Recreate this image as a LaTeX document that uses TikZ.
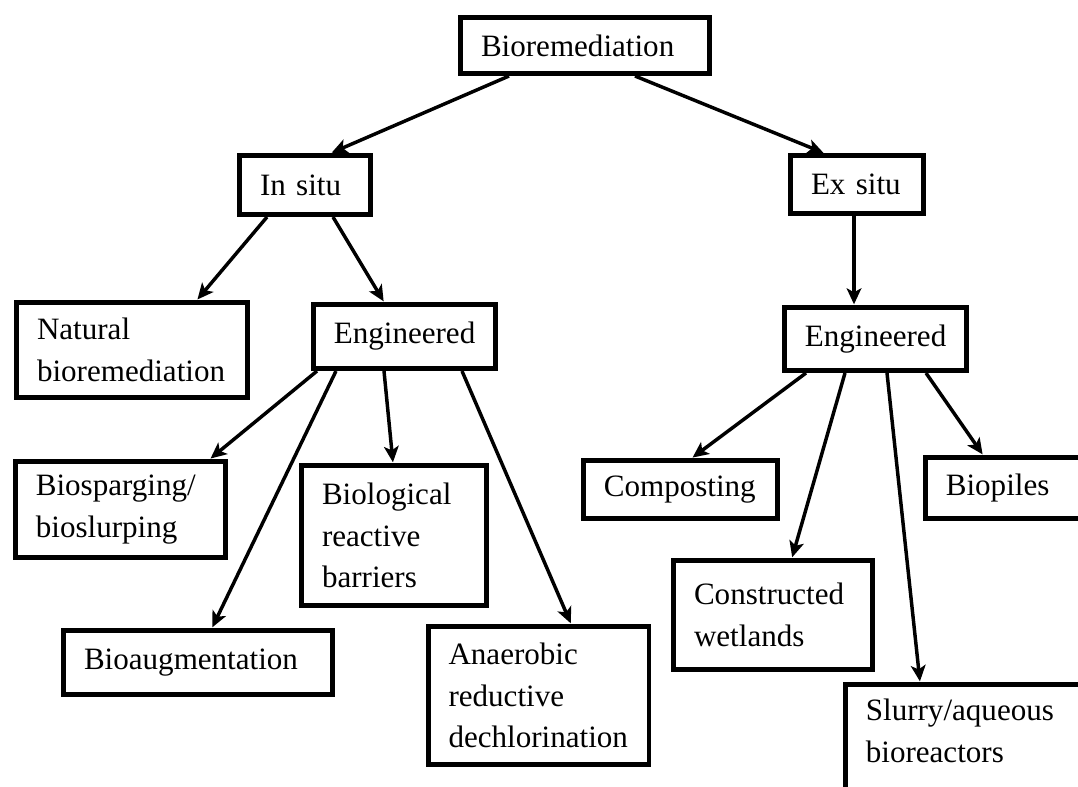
\documentclass[tikz,border=0pt]{standalone}
\usepackage{fontspec}
\setmainfont{Liberation Serif}
\usetikzlibrary{arrows.meta,calc}
\hyphenpenalty=10000
\exhyphenpenalty=10000
\begin{document}
\begin{tikzpicture}[x=0.75pt,y=-0.75pt,
  box/.style={draw, line width=3.6pt, inner xsep=15.3pt, inner ysep=0pt,
    align=left, font=\fontsize{23.3}{31}\selectfont},
  arr/.style={line width=2.6pt, -{Stealth[length=12pt,width=11pt,inset=3pt]}, shorten >=0.5pt}]
\useasboundingbox (0,0) rectangle (1078,787);
\clip (0,0) rectangle (1078,787);
\fill[white] (0,0) rectangle (1078,787);

% boxes
\node[box, text width=156pt, minimum height=42.2pt] (bio) at (585,45.5) {Bioremediation};
\node[box, text width=67.5pt, minimum height=44.4pt] (insitu) at (305,185) {In situ};
\node[box, text width=69pt, minimum height=43.6pt] (exsitu) at (857,184.5) {Ex situ};
\node[box, text width=142.5pt, minimum height=71.4pt] (natural) at (132,350) {Natural\\bioremediation};
\node[box, text width=106pt, minimum height=48.2pt] (engL) at (404.5,336.5) {Engineered};
\node[box, text width=106pt, minimum height=47.4pt] (engR) at (875.5,339) {Engineered};
\node[box, text width=127pt, minimum height=72.2pt] (biosparg) at (120.5,509.5) {Biosparging/\\bioslurping};
\node[box, text width=108pt, minimum height=105.2pt] (biolog) at (394,535.5) {Biological\\reactive\\barriers};
\node[box, text width=171pt, minimum height=48.2pt] (bioaug) at (198,662.5) {Bioaugmentation};
\node[box, text width=135pt, minimum height=103.7pt] (anaer) at (538.5,695.5) {Anaerobic\\reductive\\dechlorination};
\node[box, text width=115pt, minimum height=43.7pt] (compost) at (680.5,489.5) {Composting};
\node[box, text width=98.5pt, minimum height=46pt] (biopiles) at (1011.5,488) {Biopiles};
\node[box, text width=118.5pt, minimum height=82pt] (constr) at (773,615) {Constructed\\wetlands};
\node[box, text width=166pt, minimum height=100.6pt] (slurry) at (976.5,751.5) {Slurry/aqueous\\bioreactors\\\mbox{}};

% connectors
\draw[arr] (bio.south -| 509,0) -- (insitu.north -| 331,0);
\draw[arr] (bio.south -| 635,0) -- (exsitu.north -| 824,0);
\draw[arr] (insitu.south -| 267,0) -- (natural.north -| 197,0);
\draw[arr] (insitu.south -| 333,0) -- (engL.north -| 384,0);
\draw[arr] (exsitu.south -| 854,0) -- (engR.north -| 854,0);
\draw[arr] (engL.south -| 317,0) -- (biosparg.north -| 210,0);
\draw[arr] (engL.south -| 336,0) -- (bioaug.north -| 212,0);
\draw[arr] (engL.south -| 384,0) -- (biolog.north -| 393,0);
\draw[arr] (engL.south -| 462,0) -- (anaer.north -| 571,0);
\draw[arr] (engR.south -| 806,0) -- (compost.north -| 692,0);
\draw[arr] (engR.south -| 845,0) -- (constr.north -| 792,0);
\draw[arr] (engR.south -| 887,0) -- (slurry.north -| 920,0);
\draw[arr] (engR.south -| 926,0) -- (biopiles.north -| 983,0);
\end{tikzpicture}
\end{document}
